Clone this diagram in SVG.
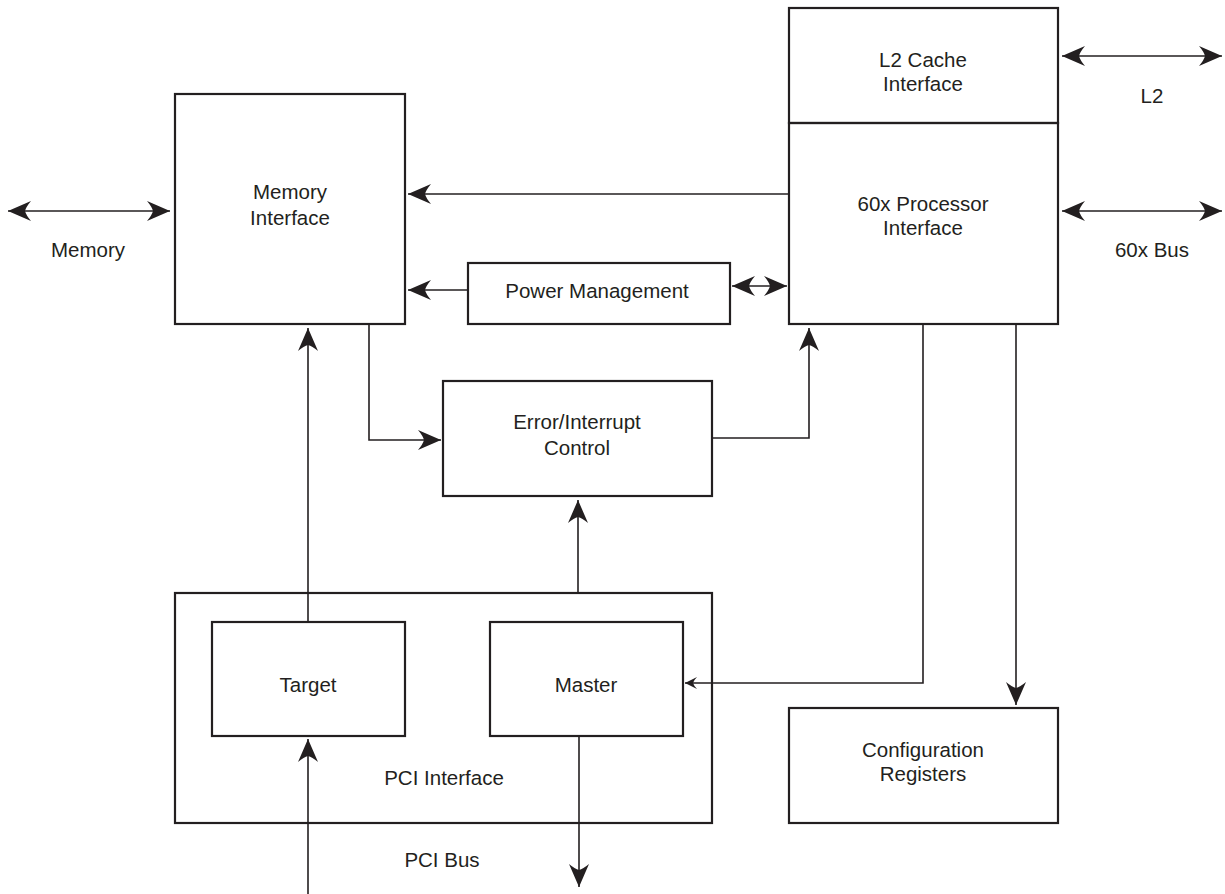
<svg xmlns="http://www.w3.org/2000/svg" width="1225" height="894" viewBox="0 0 1225 894">
<defs>
<style>
.box{fill:none;stroke:#231f20;stroke-width:2.2}
.ln{fill:none;stroke:#231f20;stroke-width:1.6}
text{font-family:"Liberation Sans",Arial,sans-serif;font-size:20.5px;fill:#231f20;text-anchor:middle}
</style>
<marker id="ah" markerUnits="userSpaceOnUse" markerWidth="26" markerHeight="22" viewBox="-25 -11 26 22" refX="0" refY="0" orient="auto-start-reverse">
<path d="M0,0 L-23,-10 Q-18,-4 -17,0 Q-18,4 -23,10 Z" fill="#231f20"/>
</marker>
<marker id="as" markerUnits="userSpaceOnUse" markerWidth="14" markerHeight="14" viewBox="-13 -7 14 14" refX="0" refY="0" orient="auto-start-reverse">
<path d="M0,0 L-12,-6 Q-9,-3 -8,0 Q-9,3 -12,6 Z" fill="#231f20"/>
</marker>
</defs>
<rect width="1225" height="894" fill="#fff"/>
<g id="memory-interface"><rect class="box" x="175" y="94" width="230" height="230"/><text x="290" y="199">Memory</text><text x="290" y="225">Interface</text></g>
<g id="l2-cache-interface"><rect class="box" x="789" y="8" width="269" height="115"/><text x="923" y="67">L2 Cache</text><text x="923" y="91">Interface</text></g>
<g id="processor-interface"><rect class="box" x="789" y="123" width="269" height="201"/><text x="923" y="211">60x Processor</text><text x="923" y="235">Interface</text></g>
<g id="power-management"><rect class="box" x="468" y="263" width="262" height="61"/><text x="597" y="298">Power Management</text></g>
<g id="error-interrupt"><rect class="box" x="443" y="381" width="269" height="115"/><text x="577" y="429">Error/Interrupt</text><text x="577" y="455">Control</text></g>
<g id="pci-interface"><rect class="box" x="175" y="593" width="537" height="230"/><text x="444" y="785">PCI Interface</text></g>
<g id="target"><rect class="box" x="212" y="622" width="193" height="114"/><text x="308" y="692">Target</text></g>
<g id="master"><rect class="box" x="490" y="622" width="193" height="114"/><text x="586" y="692">Master</text></g>
<g id="config-registers"><rect class="box" x="789" y="708" width="269" height="115"/><text x="923" y="757">Configuration</text><text x="923" y="781">Registers</text></g>
<g id="labels"><text x="88" y="257">Memory</text><text x="1152" y="103">L2</text><text x="1152" y="257">60x Bus</text><text x="442" y="867">PCI Bus</text></g>
<g id="connectors">
<line class="ln" x1="8" y1="211" x2="170" y2="211" marker-start="url(#ah)" marker-end="url(#ah)"/>
<line class="ln" x1="1062" y1="56" x2="1222" y2="56" marker-start="url(#ah)" marker-end="url(#ah)"/>
<line class="ln" x1="1062" y1="211" x2="1222" y2="211" marker-start="url(#ah)" marker-end="url(#ah)"/>
<line class="ln" x1="789" y1="194" x2="408" y2="194" marker-end="url(#ah)"/>
<line class="ln" x1="468" y1="290" x2="408" y2="290" marker-end="url(#ah)"/>
<line class="ln" x1="732" y1="286" x2="787" y2="286" marker-start="url(#ah)" marker-end="url(#ah)"/>
<polyline class="ln" points="369,324 369,440 441,440" marker-end="url(#ah)"/>
<polyline class="ln" points="712,438 809,438 809,328" marker-end="url(#ah)"/>
<line class="ln" x1="578" y1="593" x2="578" y2="500" marker-end="url(#ah)"/>
<line class="ln" x1="308" y1="622" x2="308" y2="328" marker-end="url(#ah)"/>
<polyline class="ln" points="923,324 923,683 685,683" marker-end="url(#as)"/>
<line class="ln" x1="1016" y1="324" x2="1016" y2="705" marker-end="url(#ah)"/>
<line class="ln" x1="308" y1="894" x2="308" y2="739" marker-end="url(#ah)"/>
<line class="ln" x1="579" y1="736" x2="579" y2="887" marker-end="url(#ah)"/>
</g>
</svg>
